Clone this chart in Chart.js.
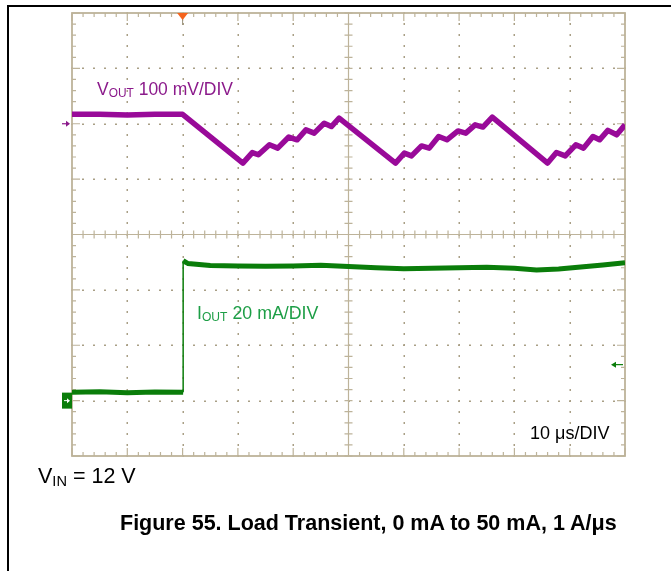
<!DOCTYPE html>
<html>
<head>
<meta charset="utf-8">
<script src="https://cdn.jsdelivr.net/npm/chart.js@4.4.0/dist/chart.umd.min.js"></script>
<style>
  html, body { margin: 0; padding: 0; background: #fff; }
  #wrap { position: relative; width: 671px; height: 571px; overflow: hidden; font-family: "Liberation Sans", Arial, sans-serif; }
  #frameTop { position: absolute; left: 7px; top: 5px; width: 664px; height: 2px; background: #000; }
  #frameLeft { position: absolute; left: 7px; top: 5px; width: 2px; height: 566px; background: #000; }
  canvas { position: absolute; left: 0; top: 0; }
  .lbl { position: absolute; white-space: nowrap; line-height: 1; }
  .lbl sub { font-size: 0.68em; vertical-align: -0.18em; }
</style>
</head>
<body>
<div id="wrap">
  <canvas id="scope" width="671" height="571"></canvas>
  <div id="frameTop"></div>
  <div id="frameLeft"></div>
  <div class="lbl" style="left:97px; top:81px; font-size:17.5px; color:#8b1a8b;">V<sub>OUT</sub> 100 mV/DIV</div>
  <div class="lbl" style="left:197px; top:305px; font-size:17.8px; color:#1d9e46;">I<sub>OUT</sub> 20 mA/DIV</div>
  <div class="lbl" style="left:530px; top:424px; font-size:18px; color:#000;">10 μs/DIV</div>
  <div class="lbl" style="left:38px; top:466px; font-size:21.5px; color:#000;">V<sub>IN</sub> = 12 V</div>
  <div class="lbl" style="left:120px; top:513px; font-size:21.5px; font-weight:bold; color:#000;">Figure 55. Load Transient, 0 mA to 50 mA, 1 A/μs</div>
</div>
<script>
// time axis: 10 us/DIV, trigger at 20 us
const timeDivs = [0, 10, 20, 30, 40, 50, 60, 70, 80, 90, 100];
// VOUT channel: 100 mV/DIV, ground marker at 0
const voutDivs = [-600, -500, -400, -300, -200, -100, 0, 100, 200];
// IOUT channel: 20 mA/DIV
const ioutRange = [-20, 140];
const triggerTime = 20;
const ioutTrigLevel = 13;

// VOUT trace (us, mV)
const voutTime = [0, 5, 10, 15, 20, 30.9, 32.6, 33.7, 35.7, 37.2, 39.2, 40.7, 42.3, 43.8, 45.6, 46.9, 48.3,
  58.5, 60.1, 61.4, 63.2, 64.6, 66.3, 67.8, 69.8, 71.2, 72.9, 74.3, 76.0,
  86.0, 87.6, 89.2, 91.1, 92.5, 94.2, 95.4, 96.9, 98.5, 100];
const voutMv = [17, 17, 16, 17, 17, -71, -52, -56, -38, -44, -24, -29, -11, -17, 1, -5, 10,
  -71, -53, -58, -40, -44, -23, -29, -13, -17, -2, -6, 12,
  -71, -52, -58, -38, -44, -23, -29, -12, -20, -2];

// IOUT trace (us, mA)
const ioutTime = [0, 5, 10, 15, 20.1, 20.1, 21, 25, 30, 35, 40, 45, 50, 55, 60, 65, 70, 75, 80, 84, 88, 92, 96, 100];
const ioutMa = [3, 3.2, 2.8, 3.1, 3, 50.5, 49.5, 48.8, 48.6, 48.5, 48.6, 48.9, 48.4, 48, 47.6, 47.8, 48, 48.2, 47.8, 47.2, 47.5, 48.3, 49, 49.8];

const gridColor = "#bdb39a";
const dotColor = "#a99f86";

const scopeGrid = {
  id: "scopeGrid",
  beforeDatasetsDraw(chart) {
    const ctx = chart.ctx;
    const a = chart.chartArea;
    const x = chart.scales.x;
    const y = chart.scales.yV;
    const xMinor = [];
    for (let i = 0; i < timeDivs.length - 1; i++) {
      for (let k = 0; k < 5; k++) xMinor.push(timeDivs[i] + k * (timeDivs[i + 1] - timeDivs[i]) / 5);
    }
    xMinor.push(timeDivs[timeDivs.length - 1]);
    const yMinor = [];
    for (let i = 0; i < voutDivs.length - 1; i++) {
      for (let k = 0; k < 5; k++) yMinor.push(voutDivs[i] + k * (voutDivs[i + 1] - voutDivs[i]) / 5);
    }
    yMinor.push(voutDivs[voutDivs.length - 1]);
    const xc = x.getPixelForValue(timeDivs[5]);
    const yc = y.getPixelForValue(voutDivs[4]);

    ctx.save();
    // dotted division lines
    ctx.fillStyle = dotColor;
    timeDivs.slice(1, -1).forEach(function (v) {
      if (v === timeDivs[5]) return;
      const px = Math.round(x.getPixelForValue(v));
      yMinor.forEach(function (w) {
        const py = Math.round(y.getPixelForValue(w));
        ctx.fillRect(px - 0.5, py - 1, 1.5, 2);
      });
    });
    voutDivs.slice(1, -1).forEach(function (v) {
      if (v === voutDivs[4]) return;
      const py = Math.round(y.getPixelForValue(v));
      xMinor.forEach(function (w) {
        const px = Math.round(x.getPixelForValue(w));
        ctx.fillRect(px - 1, py - 0.5, 2, 1.5);
      });
    });

    ctx.strokeStyle = gridColor;
    // centre cross
    ctx.lineWidth = 1.2;
    ctx.beginPath();
    ctx.moveTo(xc, a.top); ctx.lineTo(xc, a.bottom);
    ctx.moveTo(a.left, yc); ctx.lineTo(a.right, yc);
    xMinor.forEach(function (w) {
      const px = x.getPixelForValue(w);
      ctx.moveTo(px, yc - 4); ctx.lineTo(px, yc + 4);
      // border ticks top / bottom
      const isDiv = timeDivs.indexOf(w) >= 0;
      const len = isDiv ? 8 : 4;
      ctx.moveTo(px, a.top); ctx.lineTo(px, a.top + len);
      ctx.moveTo(px, a.bottom); ctx.lineTo(px, a.bottom - len);
    });
    yMinor.forEach(function (w) {
      const py = y.getPixelForValue(w);
      ctx.moveTo(xc - 4, py); ctx.lineTo(xc + 4, py);
      const isDiv = voutDivs.indexOf(w) >= 0;
      const len = isDiv ? 8 : 4;
      ctx.moveTo(a.left, py); ctx.lineTo(a.left + len, py);
      ctx.moveTo(a.right, py); ctx.lineTo(a.right - len, py);
    });
    ctx.stroke();
    // border
    ctx.lineWidth = 1.8;
    ctx.strokeRect(a.left, a.top, a.right - a.left, a.bottom - a.top);
    ctx.restore();
  },
  afterDatasetsDraw(chart) {
    const ctx = chart.ctx;
    const a = chart.chartArea;
    const x = chart.scales.x;
    const yV = chart.scales.yV;
    const yI = chart.scales.yI;
    ctx.save();
    // trigger position marker
    const tx = x.getPixelForValue(triggerTime);
    ctx.strokeStyle = "#9a927c";
    ctx.lineWidth = 1;
    ctx.beginPath(); ctx.moveTo(tx, a.top); ctx.lineTo(tx, a.top + 12); ctx.stroke();
    ctx.fillStyle = "#f5641e";
    ctx.beginPath();
    ctx.moveTo(tx - 5.5, a.top); ctx.lineTo(tx + 5.5, a.top); ctx.lineTo(tx, a.top + 7);
    ctx.closePath(); ctx.fill();

    // VOUT ground marker
    const gv = yV.getPixelForValue(0);
    ctx.strokeStyle = "#8b1a8b";
    ctx.fillStyle = "#8b1a8b";
    ctx.lineWidth = 1.2;
    ctx.beginPath(); ctx.moveTo(a.left - 10, gv); ctx.lineTo(a.left - 3, gv); ctx.stroke();
    ctx.beginPath(); ctx.moveTo(a.left - 2, gv); ctx.lineTo(a.left - 6, gv - 3); ctx.lineTo(a.left - 6, gv + 3); ctx.closePath(); ctx.fill();

    // IOUT ground marker
    const gi = yI.getPixelForValue(0);
    ctx.fillStyle = "#0a7d0a";
    ctx.fillRect(a.left - 10, gi - 8, 10, 16);
    ctx.strokeStyle = "#fff";
    ctx.fillStyle = "#fff";
    ctx.lineWidth = 1;
    ctx.beginPath(); ctx.moveTo(a.left - 8, gi); ctx.lineTo(a.left - 3, gi); ctx.stroke();
    ctx.beginPath(); ctx.moveTo(a.left - 2, gi); ctx.lineTo(a.left - 5, gi - 2.5); ctx.lineTo(a.left - 5, gi + 2.5); ctx.closePath(); ctx.fill();

    // IOUT trigger level arrow
    const tl = yI.getPixelForValue(ioutTrigLevel);
    ctx.strokeStyle = "#0a7d0a";
    ctx.fillStyle = "#0a7d0a";
    ctx.lineWidth = 1.2;
    ctx.beginPath(); ctx.moveTo(a.right - 12, tl); ctx.lineTo(a.right - 2, tl); ctx.stroke();
    ctx.beginPath(); ctx.moveTo(a.right - 14, tl); ctx.lineTo(a.right - 9, tl - 3); ctx.lineTo(a.right - 9, tl + 3); ctx.closePath(); ctx.fill();
    ctx.restore();
  }
};

const voutData = voutTime.map(function (t, i) { return { x: t, y: voutMv[i] }; });
const ioutData = ioutTime.map(function (t, i) { return { x: t, y: ioutMa[i] }; });

const ctx = document.getElementById("scope").getContext("2d");
const scopeChart = new Chart(ctx, {
  type: "line",
  data: {
    datasets: [
      {
        label: "VOUT",
        data: voutData,
        yAxisID: "yV",
        borderColor: "#990a99",
        borderWidth: 5.5,
        pointRadius: 0,
        tension: 0,
        borderJoinStyle: "round",
      },
      {
        label: "IOUT",
        data: ioutData,
        yAxisID: "yI",
        borderColor: "#0a7d0a",
        borderWidth: 5,
        pointRadius: 0,
        tension: 0,
        segment: {
          borderWidth: function (c) { return c.p0.parsed.x === c.p1.parsed.x ? 1.5 : 5; },
        },
      },
    ],
  },
  options: {
    responsive: false,
    animation: false,
    events: [],
    layout: { padding: { left: 72, right: 46, top: 13, bottom: 115 } },
    plugins: { legend: { display: false }, tooltip: { enabled: false } },
    scales: {
      x: { type: "linear", min: timeDivs[0], max: timeDivs[timeDivs.length - 1], display: false },
      yV: { type: "linear", min: voutDivs[0], max: voutDivs[voutDivs.length - 1], display: false },
      yI: { type: "linear", min: ioutRange[0], max: ioutRange[1], display: false },
    },
  },
  plugins: [scopeGrid],
});
</script>
</body>
</html>
